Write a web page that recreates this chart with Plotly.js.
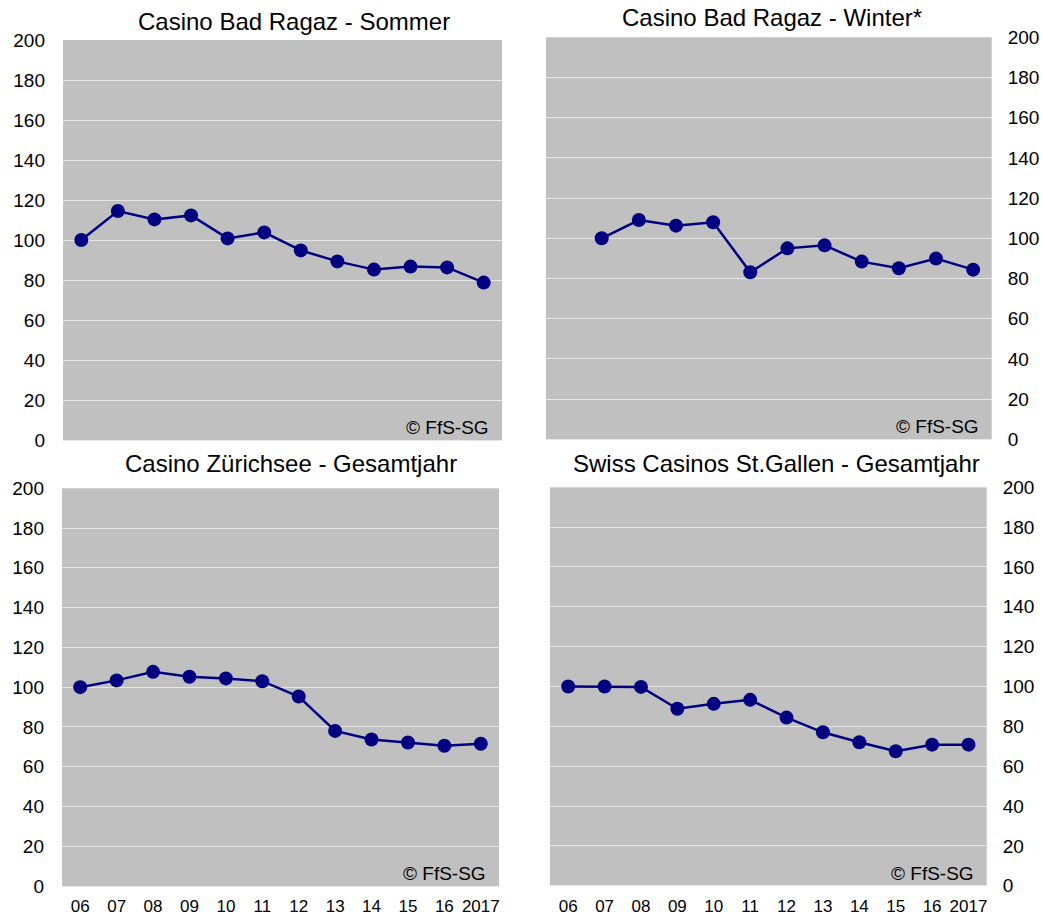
<!DOCTYPE html>
<html>
<head>
<meta charset="utf-8">
<script src="https://cdn.plot.ly/plotly-3.0.1.min.js"></script>
<style>html,body{margin:0;padding:0;background:#fff;}#chart{width:1043px;height:916px;}</style>
</head>
<body>
<div id="chart"></div>
<script>
const years = ['06','07','08','09','10','11','12','13','14','15','16','2017'];
const ragazSommer = [100, 114.5, 110.3, 112.3, 100.8, 103.8, 94.8, 89.3, 85.2, 86.7, 86.3, 78.7];
const ragazWinter = [null, 100, 109.1, 106.3, 108, 83.1, 95, 96.5, 88.4, 85.1, 89.9, 84.4];
const zuerichsee = [100, 103.4, 107.7, 105.2, 104.4, 103.0, 95.3, 78.0, 73.7, 72.2, 70.5, 71.5];
const stGallen = [100, 100, 99.8, 88.8, 91.3, 93.3, 84.4, 77.0, 72.0, 67.5, 70.8, 70.8];
const titles = ['Casino Bad Ragaz - Sommer', 'Casino Bad Ragaz - Winter*', 'Casino Zürichsee - Gesamtjahr', 'Swiss Casinos St.Gallen - Gesamtjahr'];
const watermark = '© FfS-SG';
const yTicks = [0, 20, 40, 60, 80, 100, 120, 140, 160, 180, 200];

const W = 1043, H = 916;
const series = [ragazSommer, ragazWinter, zuerichsee, stGallen];
// pixel boxes [x0, x1, yTop, yBottom]
const boxes = [[63, 502, 40, 440], [546, 991.7, 37.3, 439.3], [62, 499, 488.3, 886], [550, 986.7, 487.3, 885.7]];
const titlePos = [[294, 21], [771.7, 17], [290.8, 464], [776.7, 464]];

const FONT = 'Liberation Sans, Arial, sans-serif';
const data = [];
const layout = {
  width: W, height: H,
  margin: {l: 0, r: 0, t: 0, b: 0},
  paper_bgcolor: '#ffffff',
  plot_bgcolor: '#c0c0c0',
  showlegend: false,
  font: {family: FONT, color: '#000000'},
  annotations: []
};

series.forEach((vals, i) => {
  const n = i + 1;
  const xa = 'x' + (n === 1 ? '' : n), ya = 'y' + (n === 1 ? '' : n);
  data.push({
    x: years, y: vals, xaxis: xa, yaxis: ya,
    type: 'scatter', mode: 'lines+markers',
    line: {color: '#000080', width: 2.5},
    marker: {color: '#000080', size: 14},
    connectgaps: false, cliponaxis: false, hoverinfo: 'x+y'
  });
  const b = boxes[i];
  const right = (i % 2 === 1);
  const bottom = (i >= 2);
  layout['xaxis' + (n === 1 ? '' : n)] = {
    domain: [b[0] / W, b[1] / W],
    anchor: ya,
    type: 'category',
    categoryorder: 'array', categoryarray: years,
    range: [-0.5, 11.5],
    showgrid: false, zeroline: false, showline: false,
    showticklabels: bottom,
    ticks: '',
    ticklabelstandoff: 8,
    tickfont: {family: FONT, size: 17, color: '#000'},
    fixedrange: true
  };
  layout['yaxis' + (n === 1 ? '' : n)] = {
    domain: [1 - b[3] / H, 1 - b[2] / H],
    anchor: xa,
    side: right ? 'right' : 'left',
    range: [0, 200],
    tickvals: yTicks,
    ticktext: yTicks.map(String),
    showgrid: true, gridcolor: '#e6e6e6', gridwidth: 1,
    zeroline: true, zerolinecolor: '#e6e6e6', zerolinewidth: 1,
    showline: false, ticks: '',
    ticklabelstandoff: right ? 15 : 17,
    tickfont: {family: FONT, size: 19, color: '#000'},
    fixedrange: true
  };
  layout.annotations.push({
    text: titles[i], xref: 'paper', yref: 'paper',
    x: titlePos[i][0] / W, y: 1 - titlePos[i][1] / H,
    xanchor: 'center', yanchor: 'middle', showarrow: false,
    font: {family: FONT, size: 24, color: '#000'}
  });
  layout.annotations.push({
    text: watermark, xref: xa + ' domain', yref: ya + ' domain',
    x: 0.975, y: 0.0, xanchor: 'right', yanchor: 'bottom', showarrow: false,
    font: {family: FONT, size: 19, color: '#000'}
  });
});

Plotly.newPlot('chart', data, layout, {displayModeBar: false, staticPlot: true});
</script>
</body>
</html>
